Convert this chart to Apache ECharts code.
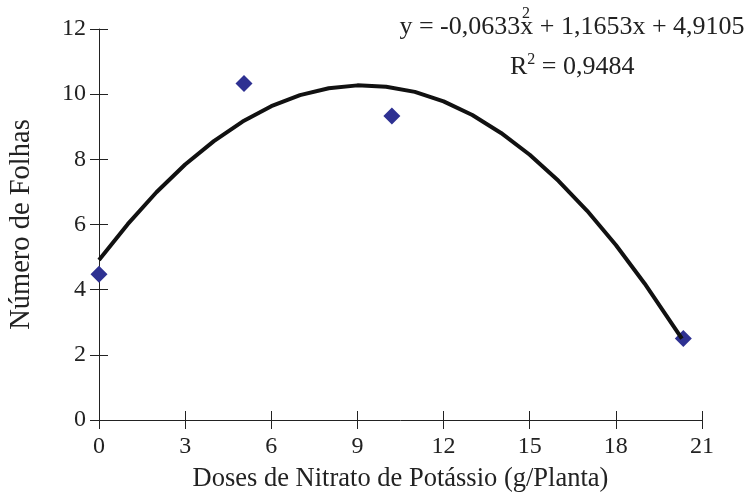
<!DOCTYPE html>
<html>
<head>
<meta charset="utf-8">
<script src="https://cdn.jsdelivr.net/npm/echarts@6/dist/echarts.min.js"></script>
<style>html,body{margin:0;padding:0;background:#fff}#c{width:750px;height:493px}</style>
</head>
<body>
<div id="c"></div>
<script>
// Observed points
var doses = [0, 5.05, 10.2, 20.35];
var folhas = [4.47, 10.33, 9.33, 2.5];
// Trendline
var trendX = [0, 1, 2, 3, 4, 5, 6, 7, 8, 9, 10, 11, 12, 13, 14, 15, 16, 17, 18, 19, 20, 20.3];
var trendY = [4.91, 6.01, 6.99, 7.84, 8.56, 9.16, 9.63, 9.97, 10.18, 10.27, 10.23, 10.07, 9.78, 9.36, 8.81, 8.14, 7.34, 6.42, 5.37, 4.19, 2.89, 2.5];
var xTicks = [0, 3, 6, 9, 12, 15, 18, 21];
var yTicks = [0, 2, 4, 6, 8, 10, 12];
var eqText = 'y = -0,0633x + 1,1653x + 4,9105';
var eqSup = '2';
var r2Text = ['R', '2', ' = 0,9484'];
var xTitle = 'Doses de Nitrato de Potássio (g/Planta)';
var yTitle = 'Número de Folhas';

var font = 'Liberation Serif';
var ink = '#222';
var chart = echarts.init(document.getElementById('c'));
var pts = doses.map(function (d, i) { return [d, folhas[i]]; });
var trend = trendX.map(function (d, i) { return [d, trendY[i]]; });

function mkAxis(kind, main, inside) {
  var ticks = kind === 'x' ? xTicks : yTicks;
  var a = {
    type: 'value',
    position: kind === 'x' ? 'bottom' : 'left',
    min: ticks[0], max: ticks[ticks.length - 1],
    interval: ticks[1] - ticks[0],
    axisLine: { show: main, onZero: false, lineStyle: { color: ink, width: 1 } },
    axisTick: { show: true, inside: inside, length: 9, lineStyle: { color: ink, width: 1 } },
    splitLine: { show: false },
    axisLabel: { show: main, color: ink, fontFamily: font, fontSize: 24, margin: kind === 'x' ? 15 : 13 }
  };
  if (main) {
    if (kind === 'x') {
      a.name = xTitle; a.nameLocation = 'middle'; a.nameGap = 46;
      a.nameTextStyle = { fontFamily: font, fontSize: 26.5, color: ink };
    } else {
      a.name = yTitle; a.nameLocation = 'middle'; a.nameGap = 63; a.nameRotate = 90;
      a.nameTextStyle = { fontFamily: font, fontSize: 28.5, color: ink };
    }
  }
  return a;
}

chart.setOption({
  animation: false,
  backgroundColor: '#fff',
  grid: { left: 99, right: 48, top: 29, bottom: 73, containLabel: false, outerBoundsMode: 'none' },
  xAxis: [mkAxis('x', true, false), mkAxis('x', false, true)],
  yAxis: [mkAxis('y', true, false), mkAxis('y', false, true)],
  graphic: [
    {
      type: 'text', x: 572, y: 27,
      style: { text: eqText, font: '26px ' + font, fill: ink, textAlign: 'center', textVerticalAlign: 'middle' }
    },
    {
      type: 'text', x: 526, y: 14,
      style: { text: eqSup, font: '16px ' + font, fill: ink, textAlign: 'center', textVerticalAlign: 'middle' }
    },
    {
      type: 'text', x: 510, y: 52,
      style: {
        text: '{a|' + r2Text[0] + '}{s|' + r2Text[1] + '}{a|' + r2Text[2] + '}',
        rich: {
          a: { fontFamily: font, fontSize: 26, fill: ink, color: ink },
          s: { fontFamily: font, fontSize: 16, fill: ink, color: ink, verticalAlign: 'top', padding: [0, 0, 14, 0] }
        }
      }
    }
  ],
  series: [
    {
      type: 'scatter', xAxisIndex: 0, yAxisIndex: 0, data: pts, symbol: 'diamond', symbolSize: 17,
      itemStyle: { color: '#2E3192', opacity: 1 }, z: 2
    },
    {
      type: 'line', xAxisIndex: 0, yAxisIndex: 0, data: trend, showSymbol: false, symbol: 'none', smooth: false,
      lineStyle: { color: '#111', width: 4 }, z: 3
    }
  ]
});
</script>
</body>
</html>
